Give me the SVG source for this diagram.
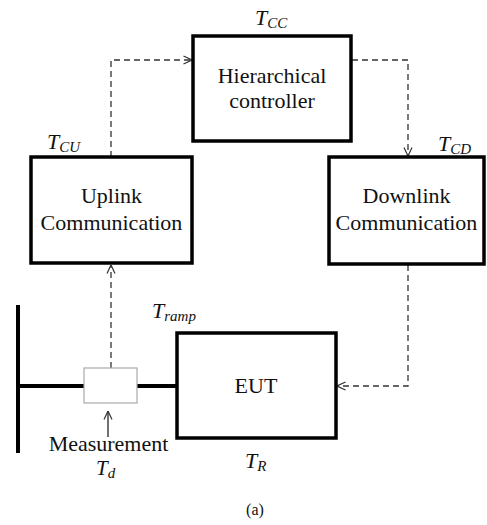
<svg xmlns="http://www.w3.org/2000/svg" width="487" height="525" viewBox="0 0 487 525">
<defs>
<style>
.box{fill:#fff;stroke:#000;stroke-width:3.5}
.lbl{font-family:'Liberation Serif','Times New Roman',serif;font-size:22px;fill:#111;text-anchor:middle}
.sym{font-family:'Liberation Serif','Times New Roman',serif;font-style:italic;fill:#111}
.dash{fill:none;stroke:#333;stroke-width:1.3;stroke-dasharray:6,4}
.bus{fill:none;stroke:#000;stroke-width:4}
</style>
<marker id="arr" viewBox="0 0 10 10" refX="9.5" refY="5" markerWidth="10" markerHeight="10" markerUnits="userSpaceOnUse" orient="auto">
<path d="M1,1 L9.5,5 L1,9" fill="none" stroke="#333" stroke-width="1.2"/>
</marker>
</defs>
<rect width="487" height="525" fill="#fff"/>
<g id="connectors">
<polyline class="dash" points="111,157 111,60 192,60" marker-end="url(#arr)"/>
<polyline class="dash" points="352,60 408,60 408,156" marker-end="url(#arr)"/>
<polyline class="dash" points="408,265 408,386 337,386" marker-end="url(#arr)"/>
<line class="dash" x1="111" y1="368" x2="111" y2="265" marker-end="url(#arr)"/>
<line x1="108" y1="437" x2="108" y2="411" stroke="#111" stroke-width="1.2" marker-end="url(#arr)"/>
<line class="bus" x1="18" y1="305" x2="18" y2="453"/>
<line class="bus" x1="18" y1="386" x2="84" y2="386"/>
<line class="bus" x1="137" y1="386" x2="177" y2="386"/>
</g>
<g id="controller">
<rect class="box" x="193" y="36" width="158" height="105"/>
<text class="lbl" x="272" y="83">Hierarchical</text>
<text class="lbl" x="272" y="108">controller</text>
<text class="sym" x="255" y="25" font-size="22">T<tspan font-size="15" dy="3">CC</tspan></text>
</g>
<g id="uplink">
<rect class="box" x="31" y="157" width="161" height="106"/>
<text class="lbl" x="111.5" y="203">Uplink</text>
<text class="lbl" x="111.5" y="230">Communication</text>
<text class="sym" x="47" y="149" font-size="22">T<tspan font-size="15" dy="3">CU</tspan></text>
</g>
<g id="downlink">
<rect class="box" x="329" y="157" width="155" height="107"/>
<text class="lbl" x="406.5" y="203">Downlink</text>
<text class="lbl" x="406.5" y="230">Communication</text>
<text class="sym" x="438" y="151" font-size="22">T<tspan font-size="15" dy="3">CD</tspan></text>
</g>
<g id="eut">
<rect class="box" x="177" y="333" width="159" height="105"/>
<text class="lbl" x="256" y="393">EUT</text>
<text class="sym" x="152" y="318" font-size="22">T<tspan font-size="15" dy="3">ramp</tspan></text>
<text class="sym" x="245" y="468" font-size="22">T<tspan font-size="15" dy="3">R</tspan></text>
</g>
<g id="measurement">
<rect x="84" y="368" width="53" height="35" fill="#fff" stroke="#aaa" stroke-width="1.2"/>
<text class="lbl" x="108.5" y="451">Measurement</text>
<text class="sym" x="96" y="475" font-size="21">T<tspan font-size="15" dy="3">d</tspan></text>
</g>
<text x="255" y="515" font-family="'Liberation Serif', serif" font-size="16" fill="#111" text-anchor="middle">(a)</text>
</svg>
